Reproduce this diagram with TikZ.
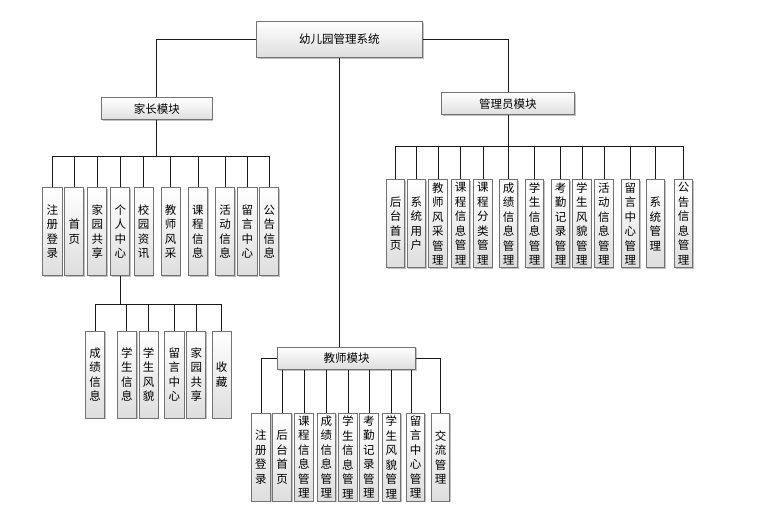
\documentclass[tikz,border=0pt]{standalone}
\usepackage{fontspec}
\newfontfamily\cjk{Noto Sans CJK SC}
\usetikzlibrary{shadows}
\tikzset{
  box/.style={draw=black!55, line width=0.9pt, top color=white, bottom color=black!13,
    drop shadow={shadow xshift=1.3pt, shadow yshift=-1.3pt, fill=black!40, opacity=0.6},
    inner sep=0pt, anchor=north west, font=\cjk\fontsize{11.5}{14.5}\selectfont, align=center},
  conn/.style={draw=black!90, line width=0.9pt},
}
\newcommand\mkbox[6]{%
  \node[box, minimum width={(#4-#2)*1pt}, minimum height={(#5-#3)*1pt}] (#1) at (#2,#3) {#6};}
\begin{document}
\begin{tikzpicture}[x=1pt,y=-1pt]
\fill[white] (0,0) rectangle (774,515);
\useasboundingbox (0,0) rectangle (774,515);
% top level
\mkbox{root}{256}{21}{422}{57}{幼儿园管理系统}
\mkbox{par}{101}{97.3}{211.7}{119.3}{家长模块}
\mkbox{adm}{441}{92.3}{574}{114.3}{管理员模块}
\mkbox{tea}{277.3}{346.7}{415}{369}{教师模块}
% parent children
\mkbox{p1}{42.3}{187.3}{61.7}{275}{注\\册\\登\\录}
\mkbox{p2}{64.3}{187.3}{83.3}{275}{首\\页}
\mkbox{p3}{87.3}{187.3}{106.3}{275}{家\\园\\共\\享}
\mkbox{p4}{110.3}{187.3}{129.3}{275}{个\\人\\中\\心}
\mkbox{p5}{133.7}{187.3}{152.7}{275}{校\\园\\资\\讯}
\mkbox{p6}{160.7}{187.3}{179.7}{275}{教\\师\\风\\采}
\mkbox{p7}{188}{187.3}{207}{275}{课\\程\\信\\息}
\mkbox{p8}{215}{187.3}{234.3}{275}{活\\动\\信\\息}
\mkbox{p9}{237.3}{187.3}{256.7}{275}{留\\言\\中\\心}
\mkbox{p10}{259.3}{187.3}{278.3}{275}{公\\告\\信\\息}
% personal center children
\mkbox{q1}{85}{330.7}{104.3}{417.7}{成\\绩\\信\\息}
\mkbox{q2}{116.7}{330.7}{136}{417.7}{学\\生\\信\\息}
\mkbox{q3}{138.7}{330.7}{157.7}{417.7}{学\\生\\风\\貌}
\mkbox{q4}{164.3}{330.7}{183.7}{417.7}{留\\言\\中\\心}
\mkbox{q5}{186.3}{330.7}{205.3}{417.7}{家\\园\\共\\享}
\mkbox{q6}{211.7}{330.7}{230.7}{417.7}{收\\藏}
% admin children
\mkbox{a1}{386}{179.3}{404.3}{267.3}{后\\台\\首\\页}
\mkbox{a2}{406.7}{179.3}{425}{267.3}{系\\统\\用\\户}
\mkbox{a3}{428.3}{179.3}{446.7}{267.3}{教\\师\\风\\采\\管\\理}
\mkbox{a4}{451}{179.3}{469.3}{267.3}{课\\程\\信\\息\\管\\理}
\mkbox{a5}{473.3}{179.3}{491.7}{267.3}{课\\程\\分\\类\\管\\理}
\mkbox{a6}{499}{179.3}{517.3}{267.3}{成\\绩\\信\\息\\管\\理}
\mkbox{a7}{525}{179.3}{543.3}{267.3}{学\\生\\信\\息\\管\\理}
\mkbox{a8}{551}{179.3}{569.3}{267.3}{考\\勤\\记\\录\\管\\理}
\mkbox{a9}{572.3}{179.3}{590.7}{267.3}{学\\生\\风\\貌\\管\\理}
\mkbox{a10}{594.3}{179.3}{612.7}{267.3}{活\\动\\信\\息\\管\\理}
\mkbox{a11}{620.7}{179.3}{639.3}{267.3}{留\\言\\中\\心\\管\\理}
\mkbox{a12}{645.7}{179.3}{664.3}{267.3}{系\\统\\管\\理}
\mkbox{a13}{674}{179.3}{692.3}{267.3}{公\\告\\信\\息\\管\\理}
% teacher children
\mkbox{t1}{251}{412.7}{270}{500.7}{注\\册\\登\\录}
\mkbox{t2}{272.3}{412.7}{291}{500.7}{后\\台\\首\\页}
\mkbox{t3}{294.3}{412.7}{312.7}{500.7}{课\\程\\信\\息\\管\\理}
\mkbox{t4}{316.7}{412.7}{335}{500.7}{成\\绩\\信\\息\\管\\理}
\mkbox{t5}{338.3}{412.7}{356.7}{500.7}{学\\生\\信\\息\\管\\理}
\mkbox{t6}{359.3}{412.7}{377.7}{500.7}{考\\勤\\记\\录\\管\\理}
\mkbox{t7}{381.7}{412.7}{400}{500.7}{学\\生\\风\\貌\\管\\理}
\mkbox{t8}{406}{412.7}{424.3}{500.7}{留\\言\\中\\心\\管\\理}
\mkbox{t9}{431}{412.7}{449.3}{500.7}{交\\流\\管\\理}
% connectors from root
\draw[conn] (root.west) -| (par.north);
\draw[conn] (root.east) -| (adm.north);
\draw[conn] (root.south) -- (root.south |- tea.north);
% parent bus
\coordinate (pbus) at (0,156);
\draw[conn] (par.south) -- (par.south |- pbus);
\draw[conn] (p1.north |- pbus) -- (p10.north |- pbus);
\foreach \i in {1,...,10} {\draw[conn] (p\i.north |- pbus) -- (p\i.north);}
% personal center bus
\coordinate (qbus) at (0,304.3);
\draw[conn] (p4.south) -- (p4.south |- qbus);
\draw[conn] (q1.north |- qbus) -- (q6.north |- qbus);
\foreach \i in {1,...,6} {\draw[conn] (q\i.north |- qbus) -- (q\i.north);}
% admin bus
\coordinate (abus) at (0,146);
\draw[conn] (adm.south) -- (adm.south |- abus);
\draw[conn] (a1.north |- abus) -- (a13.north |- abus);
\foreach \i in {1,...,13} {\draw[conn] (a\i.north |- abus) -- (a\i.north);}
% teacher children
\draw[conn] (tea.west) -| (t1.north);
\draw[conn] (tea.east) -| (t9.north);
\foreach \i in {2,...,7} {\draw[conn] (t\i.north |- tea.south) -- (t\i.north);}
\draw[conn] ([xshift=-4.5pt]t8.north |- tea.south) -- ([xshift=-4.5pt]t8.north);
\end{tikzpicture}
\end{document}
